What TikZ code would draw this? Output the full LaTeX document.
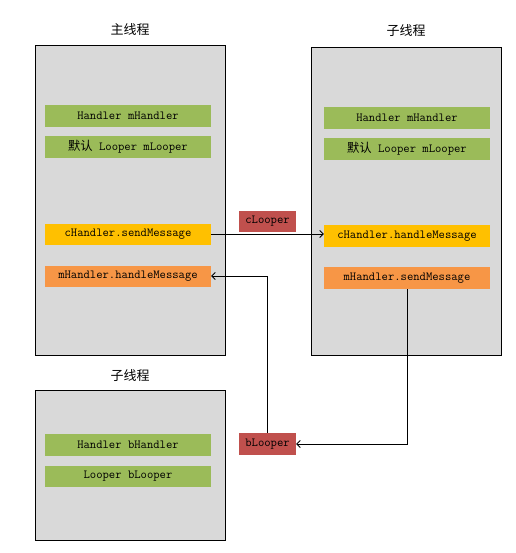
\documentclass[tikz,border=0pt]{standalone}
\usepackage{fontspec}
\newfontfamily\cjk{Noto Sans CJK SC}
\usetikzlibrary{arrows.meta}
\definecolor{panelgray}{HTML}{D9D9D9}
\definecolor{boxgreen}{HTML}{9BBB59}
\definecolor{boxyellow}{HTML}{FFC000}
\definecolor{boxorange}{HTML}{F79646}
\definecolor{boxred}{HTML}{C0504D}
\begin{document}
\begin{tikzpicture}[x=1pt,y=-1pt,
  panel/.style={draw=black,line width=0.8pt,fill=panelgray},
  item/.style={inner sep=0pt,font=\ttfamily\fontsize{12.3}{14}\selectfont},
  title/.style={font=\cjk\fontsize{13}{15}\selectfont},
  conn/.style={line width=0.8pt,-{Straight Barb[length=3.5pt,width=7pt]}}]
\useasboundingbox[fill=white] (0,0) rectangle (515,553);
% panels
\draw[panel] (35,45) rectangle (225,355);
\draw[panel] (311,47) rectangle (501,355);
\draw[panel] (35,390) rectangle (225,540);
\node[title] (t1) at (130,30) {主线程};
\node[title] (t2) at (406,31) {子线程};
\node[title] (t3) at (130,376) {子线程};
% left items
\node[item,fill=boxgreen,minimum width=166pt,minimum height=22pt] (lh) at (128,116) {Handler mHandler};
\node[item,fill=boxgreen,minimum width=166pt,minimum height=22pt] (ll) at (128,147) {{\cjk 默认} Looper mLooper};
\node[item,fill=boxyellow,minimum width=166pt,minimum height=21pt] (lsend) at (128,234) {cHandler.sendMessage};
\node[item,fill=boxorange,minimum width=166pt,minimum height=21pt] (lhandle) at (128,276) {mHandler.handleMessage};
% right items
\node[item,fill=boxgreen,minimum width=166pt,minimum height=22pt] (rh) at (407,118) {Handler mHandler};
\node[item,fill=boxgreen,minimum width=166pt,minimum height=22pt] (rl) at (407,149) {{\cjk 默认} Looper mLooper};
\node[item,fill=boxyellow,minimum width=166pt,minimum height=22pt] (rhandle) at (407,236) {cHandler.handleMessage};
\node[item,fill=boxorange,minimum width=166pt,minimum height=22pt] (rsend) at (407,278) {mHandler.sendMessage};
% bottom items
\node[item,fill=boxgreen,minimum width=166pt,minimum height=22pt] (bh) at (128,445) {Handler bHandler};
\node[item,fill=boxgreen,minimum width=166pt,minimum height=21pt] (bl) at (128,476) {Looper bLooper};
% loopers
\node[item,fill=boxred,minimum width=57pt,minimum height=21pt] (cl) at (267.5,221) {cLooper};
\node[item,fill=boxred,minimum width=57pt,minimum height=22pt] (bll) at (267.5,444) {bLooper};
% connectors
\draw[conn] (lsend.east) -- (lsend.east -| rhandle.west);
\draw[conn] (rsend.south) |- (bll.east);
\draw[conn] (bll.north) |- (lhandle.east);
\end{tikzpicture}
\end{document}
